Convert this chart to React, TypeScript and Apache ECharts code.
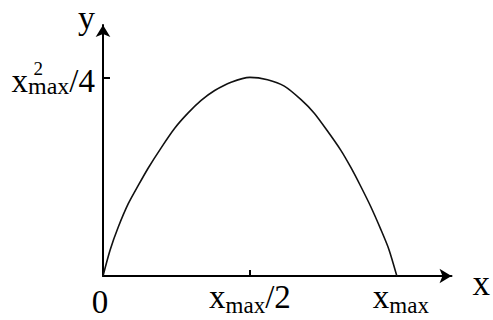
import React, { useEffect, useRef } from "react";
import * as echarts from "echarts";

// Curve (x in units of x_max, y in units of x_max^2)
const curveX = [0, 0.024, 0.052, 0.086, 0.12, 0.154, 0.199, 0.244, 0.289, 0.334, 0.38, 0.436, 0.5, 0.56, 0.617, 0.674, 0.719, 0.764, 0.809, 0.843, 0.877, 0.911, 0.945, 0.973, 1.0];
const curveY = [0, 0.0325, 0.0616, 0.091, 0.114, 0.136, 0.162, 0.186, 0.205, 0.221, 0.2335, 0.244, 0.25, 0.247, 0.239, 0.222, 0.205, 0.1825, 0.1585, 0.137, 0.113, 0.0875, 0.059, 0.0335, 0];

const xTickValues = [0.5];
const xLabelValues = [0, 0.5, 1];
const xLabels: Record<string, string> = {
  "0": "{z|0}",
  "0.5": "{m|x}{s|max}{m|/2}",
  "1": "{mp|x}{s|max}",
};
const yTickValues = [0.25];
const yLabel = "{sup|2}\n{m|x}{s|max}{m|/4}";

const FONT = "'Liberation Serif', 'Times New Roman', serif";

export default function App() {
  const ref = useRef<HTMLDivElement>(null);
  useEffect(() => {
    const chart = echarts.init(ref.current!, null, { renderer: "svg" });
    const data = curveX.map((x, i) => [x, curveY[i]]);
    chart.setOption({
      animation: false,
      backgroundColor: "#fff",
      grid: { left: 103, right: 40, top: 23, bottom: 44, containLabel: false },
      xAxis: {
        type: "value",
        min: 0,
        max: 1.186,
        splitLine: { show: false },
        axisLine: {
          show: true,
          onZero: false,
          symbol: ["none", "arrow"],
          symbolSize: [11, 12],
          lineStyle: { color: "#000", width: 2 },
        },
        axisTick: {
          show: true,
          inside: true,
          length: 6,
          customValues: xTickValues,
          lineStyle: { color: "#000", width: 2 },
        },
        axisLabel: {
          show: true,
          customValues: xLabelValues,
          margin: 4,
          color: "#000",
          fontFamily: FONT,
          formatter: (v: number) => xLabels[String(v)] ?? "",
          rich: {
            m: { fontSize: 33, fontFamily: FONT, color: "#000", lineHeight: 34 },
            mp: { fontSize: 33, fontFamily: FONT, color: "#000", lineHeight: 34, padding: [0, 0, 0, 8] },
            z: { fontSize: 33, fontFamily: FONT, color: "#000", lineHeight: 34, height: 24, verticalAlign: "bottom", padding: [0, 6, 0, 0] },
            s: { fontSize: 23, fontFamily: FONT, color: "#000", lineHeight: 17, height: 17, verticalAlign: "bottom" },
          },
        },
        name: "x",
        nameLocation: "end",
        nameGap: 21,
        nameTextStyle: {
          fontSize: 35,
          fontFamily: FONT,
          color: "#000",
          align: "left",
          verticalAlign: "top",
          lineHeight: 14,
        },
      },
      yAxis: {
        type: "value",
        min: 0,
        max: 0.316,
        splitLine: { show: false },
        axisLine: {
          show: true,
          onZero: false,
          symbol: ["none", "arrow"],
          symbolSize: [11, 12],
          lineStyle: { color: "#000", width: 2 },
        },
        axisTick: {
          show: true,
          inside: true,
          length: 7,
          customValues: yTickValues,
          lineStyle: { color: "#000", width: 2 },
        },
        axisLabel: {
          show: true,
          customValues: yTickValues,
          margin: 8,
          color: "#000",
          fontFamily: FONT,
          formatter: () => yLabel,
          rich: {
            sup: { fontSize: 19, fontFamily: FONT, color: "#000", lineHeight: 7, padding: [0, 52, 0, 0] },
            m: { fontSize: 33, fontFamily: FONT, color: "#000", lineHeight: 17 },
            s: { fontSize: 24, fontFamily: FONT, color: "#000", lineHeight: 6, height: 6, verticalAlign: "bottom" },
          },
        },
        name: "y",
        nameLocation: "end",
        nameGap: 8,
        nameTextStyle: {
          fontSize: 34,
          fontFamily: FONT,
          color: "#000",
          align: "right",
          verticalAlign: "middle",
          lineHeight: 24,
          padding: [0, 8, 0, 0],
        },
      },
      series: [
        {
          type: "line",
          data,
          smooth: 0.25,
          showSymbol: false,
          lineStyle: { color: "#111", width: 1.6 },
          silent: true,
        },
      ],
    });
    return () => chart.dispose();
  }, []);
  return (
    <div
      ref={ref}
      style={{ position: "fixed", left: 0, top: 0, width: 493, height: 320, background: "#fff" }}
    />
  );
}
